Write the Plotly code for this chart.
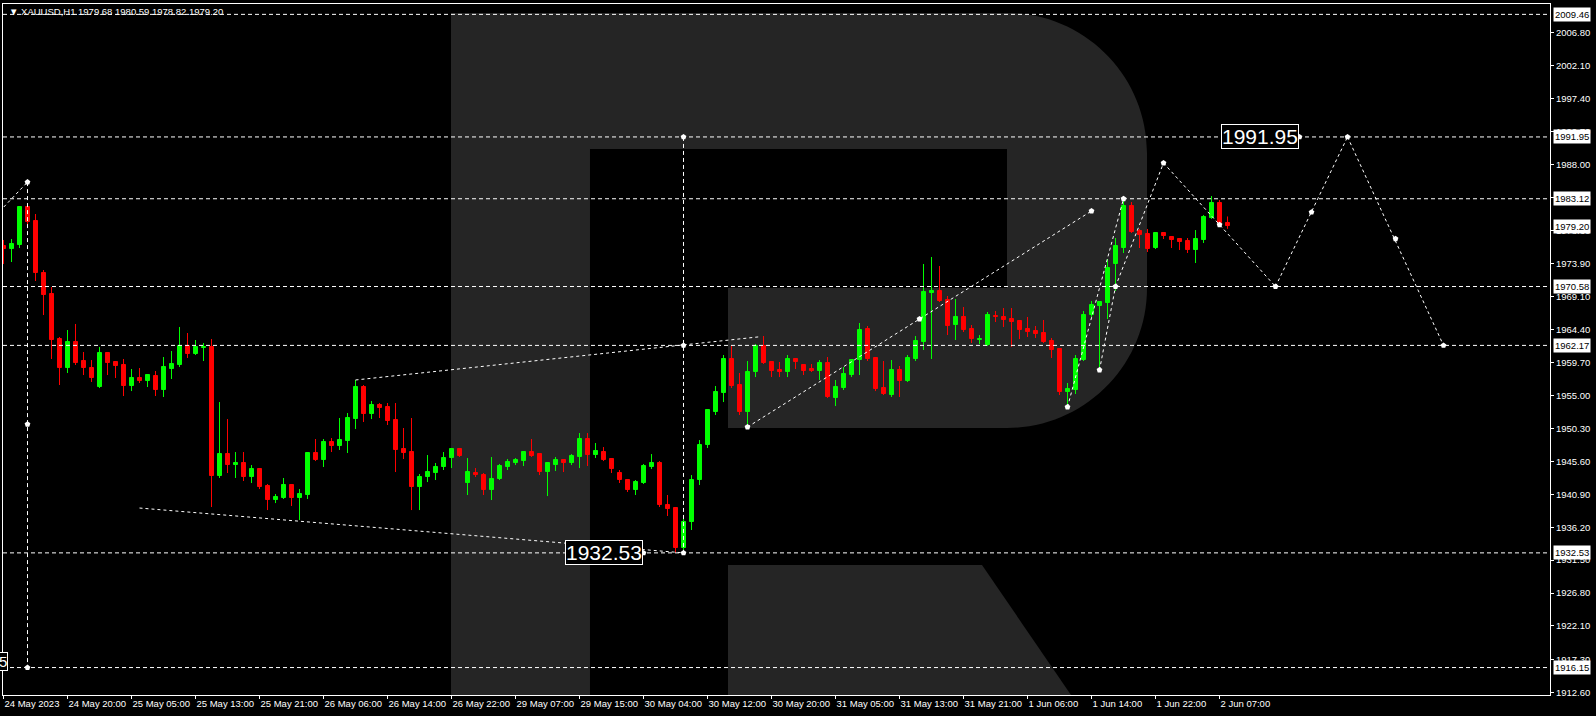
import plotly.graph_objects as go

# ---------------- data (XAUUSD H1) ----------------
bar_open = [1976.37, 1975.94, 1976.51, 1981.94, 1979.94, 1972.51, 1969.51, 1963.08, 1958.94, 1962.65,
            1959.94, 1958.94, 1956.23, 1961.08, 1959.80, 1959.37, 1956.37, 1957.51, 1957.08, 1957.80,
            1955.80, 1958.80, 1959.37, 1962.08, 1960.94, 1961.85, 1961.94, 1943.51, 1946.65, 1945.08,
            1945.37, 1943.37, 1944.51, 1942.08, 1940.08, 1940.37, 1942.23, 1940.37, 1940.80, 1946.80,
            1945.80, 1948.37, 1947.80, 1948.51, 1951.65, 1956.23, 1952.37, 1953.65, 1953.37, 1951.51,
            1947.37, 1946.94, 1941.94, 1943.37, 1943.94, 1944.80, 1946.08, 1947.37, 1942.51, 1943.94,
            1943.65, 1941.51, 1943.08, 1944.80, 1945.37, 1945.65, 1946.94, 1946.65, 1944.08, 1945.08,
            1945.80, 1945.37, 1946.23, 1948.80, 1946.51, 1946.94, 1945.94, 1943.94, 1942.94, 1941.51,
            1942.51, 1944.80, 1945.37, 1939.37, 1938.94, 1933.23, 1936.94, 1942.94, 1947.94, 1952.65,
            1955.37, 1960.23, 1956.51, 1952.65, 1958.37, 1962.08, 1959.80, 1958.65, 1958.37, 1960.23,
            1959.37, 1958.80, 1958.51, 1959.65, 1954.65, 1956.08, 1957.94, 1960.08, 1964.51, 1960.37,
            1956.08, 1955.08, 1958.65, 1957.08, 1960.23, 1962.65, 1969.65, 1969.94, 1968.65, 1965.08,
            1966.23, 1964.51, 1963.01, 1962.23, 1966.37, 1966.23, 1965.94, 1965.65, 1964.51, 1964.23,
            1963.94, 1962.80, 1961.65, 1955.51, 1955.80, 1960.08, 1966.51, 1967.80, 1968.23, 1973.80,
            1976.08, 1982.08, 1978.51, 1978.08, 1976.08, 1978.23, 1977.65, 1977.37, 1977.08, 1975.80,
            1977.23, 1980.37, 1982.51, 1979.68]
bar_high = [1977.23, 1977.37, 1982.08, 1982.51, 1980.94, 1972.94, 1970.51, 1963.37, 1964.37, 1965.23,
            1961.23, 1960.08, 1961.94, 1961.23, 1959.94, 1960.23, 1958.80, 1958.94, 1958.08, 1958.51,
            1960.51, 1961.37, 1964.80, 1963.94, 1962.94, 1962.51, 1963.08, 1954.08, 1951.65, 1946.94,
            1946.94, 1945.08, 1944.65, 1942.37, 1940.94, 1943.23, 1942.37, 1941.65, 1946.94, 1948.80,
            1948.80, 1948.94, 1951.80, 1952.51, 1957.23, 1956.51, 1954.23, 1953.94, 1953.94, 1953.94,
            1950.37, 1951.80, 1943.80, 1946.51, 1945.37, 1946.94, 1947.51, 1947.51, 1946.08, 1944.65,
            1943.94, 1946.23, 1945.23, 1945.94, 1946.08, 1947.08, 1948.80, 1946.80, 1945.51, 1946.23,
            1945.94, 1946.65, 1949.65, 1949.65, 1948.23, 1947.65, 1946.08, 1944.37, 1943.08, 1942.94,
            1945.23, 1946.65, 1945.65, 1940.80, 1939.08, 1937.65, 1943.65, 1948.65, 1953.08, 1956.37,
            1960.80, 1962.08, 1958.23, 1959.94, 1962.37, 1963.51, 1959.94, 1959.80, 1960.80, 1960.37,
            1959.51, 1959.51, 1960.08, 1960.51, 1957.23, 1959.08, 1960.23, 1965.37, 1964.94, 1960.51,
            1959.94, 1960.08, 1959.23, 1960.80, 1963.51, 1973.80, 1974.80, 1973.51, 1969.23, 1968.80,
            1967.65, 1965.08, 1963.65, 1966.94, 1967.08, 1967.51, 1967.51, 1965.80, 1966.23, 1964.94,
            1965.80, 1963.23, 1961.80, 1956.80, 1960.80, 1967.08, 1968.51, 1968.51, 1974.51, 1977.51,
            1983.12, 1982.65, 1978.80, 1978.80, 1978.37, 1978.37, 1977.80, 1977.51, 1977.51, 1978.65,
            1980.80, 1983.51, 1982.94, 1980.59]
bar_low = [1973.80, 1974.08, 1976.08, 1979.37, 1971.37, 1966.51, 1960.23, 1956.51, 1958.23, 1959.37,
           1957.94, 1956.94, 1956.08, 1957.94, 1957.51, 1954.94, 1955.65, 1956.80, 1956.23, 1954.94,
           1954.80, 1957.37, 1959.08, 1960.37, 1960.80, 1959.94, 1939.08, 1943.23, 1943.94, 1943.23,
           1942.80, 1942.51, 1941.65, 1938.65, 1939.65, 1940.23, 1939.23, 1937.23, 1940.23, 1945.65,
           1944.80, 1946.94, 1947.23, 1946.80, 1950.23, 1951.23, 1951.65, 1951.80, 1950.80, 1944.08,
           1945.94, 1938.65, 1938.65, 1942.65, 1942.94, 1944.37, 1944.65, 1946.23, 1940.80, 1943.37,
           1940.80, 1940.08, 1942.94, 1944.37, 1945.08, 1944.94, 1946.23, 1943.65, 1940.65, 1944.23,
           1944.08, 1945.08, 1944.65, 1944.94, 1946.08, 1945.65, 1943.94, 1942.51, 1941.23, 1940.80,
           1942.37, 1944.51, 1939.08, 1937.80, 1932.53, 1932.94, 1935.80, 1942.23, 1947.51, 1952.23,
           1954.08, 1956.08, 1952.23, 1950.51, 1957.65, 1959.51, 1957.65, 1957.65, 1957.65, 1958.80,
           1957.94, 1958.37, 1957.23, 1954.65, 1953.51, 1955.80, 1957.65, 1957.94, 1959.94, 1955.65,
           1955.08, 1954.80, 1954.80, 1956.94, 1959.94, 1961.51, 1960.23, 1968.37, 1963.65, 1962.94,
           1964.08, 1962.51, 1962.37, 1962.08, 1965.51, 1964.80, 1961.94, 1963.08, 1963.37, 1963.23,
           1962.51, 1960.37, 1955.08, 1953.23, 1955.23, 1959.94, 1966.23, 1958.65, 1965.94, 1969.94,
           1975.37, 1978.23, 1976.08, 1975.51, 1975.94, 1977.37, 1976.08, 1975.80, 1975.37, 1973.94,
           1976.80, 1980.23, 1979.51, 1978.82]
bar_close = [1975.94, 1976.65, 1981.94, 1979.80, 1972.51, 1969.37, 1962.94, 1958.94, 1962.65, 1959.65,
             1958.94, 1957.51, 1961.08, 1959.65, 1959.23, 1956.37, 1957.51, 1957.08, 1957.94, 1955.80,
             1959.08, 1959.51, 1962.08, 1960.94, 1961.94, 1961.94, 1943.51, 1946.65, 1945.08, 1945.37,
             1943.37, 1944.51, 1941.94, 1940.08, 1940.51, 1942.23, 1940.37, 1940.94, 1946.80, 1945.80,
             1948.37, 1947.80, 1948.65, 1951.80, 1956.23, 1952.37, 1953.65, 1953.23, 1951.37, 1947.23,
             1946.80, 1941.94, 1943.37, 1944.08, 1944.80, 1946.08, 1947.37, 1946.37, 1944.08, 1943.65,
             1941.51, 1943.08, 1944.94, 1945.51, 1945.80, 1946.94, 1946.37, 1944.08, 1945.37, 1945.80,
             1945.37, 1946.37, 1948.80, 1946.51, 1947.08, 1945.80, 1944.51, 1942.94, 1941.51, 1942.65,
             1944.94, 1945.37, 1939.37, 1938.80, 1933.23, 1936.94, 1942.94, 1947.94, 1952.94, 1955.51,
             1960.23, 1956.37, 1952.65, 1958.37, 1962.08, 1959.65, 1958.51, 1958.37, 1960.23, 1959.80,
             1958.51, 1958.51, 1959.65, 1954.80, 1956.23, 1958.08, 1960.08, 1964.37, 1960.23, 1955.94,
             1955.23, 1958.65, 1957.08, 1960.37, 1962.80, 1969.80, 1969.94, 1968.51, 1964.94, 1966.23,
             1964.37, 1963.08, 1963.08, 1966.51, 1966.23, 1965.80, 1965.51, 1964.37, 1964.08, 1963.80,
             1962.65, 1961.51, 1955.51, 1955.94, 1960.23, 1966.51, 1967.94, 1968.37, 1973.23, 1976.37,
             1982.08, 1978.37, 1977.94, 1975.94, 1978.23, 1977.80, 1977.23, 1976.94, 1975.80, 1977.37,
             1980.51, 1982.51, 1979.65, 1979.20]

tick_bars = list(range(0, 153, 8))
tick_labels = ["24 May 2023", "24 May 20:00", "25 May 05:00", "25 May 13:00", "25 May 21:00",
               "26 May 06:00", "26 May 14:00", "26 May 22:00", "29 May 07:00", "29 May 15:00",
               "30 May 04:00", "30 May 12:00", "30 May 20:00", "31 May 05:00", "31 May 13:00",
               "31 May 21:00", "1 Jun 06:00", "1 Jun 14:00", "1 Jun 22:00", "2 Jun 07:00"]

price_ticks = [2006.80, 2002.10, 1997.40, 1992.70, 1988.00, 1983.30, 1978.60, 1973.90, 1969.10,
               1964.40, 1959.70, 1955.00, 1950.30, 1945.60, 1940.90, 1936.20, 1931.50, 1926.80,
               1922.10, 1917.30, 1912.60]
price_tick_labels = ["%.2f" % v for v in price_ticks]

level_prices = [2009.46, 1991.95, 1983.12, 1970.58, 1962.17, 1932.53, 1916.15]
current_price = 1979.20

# drawn trend / projection lines: (bar, price) -> (bar, price)
trend_bar0 = [-1, 17, 44, 93, 133, 137, 139, 145, 159, 168]
trend_price0 = [1980.70, 1938.94, 1957.23, 1950.51, 1953.37, 1958.65, 1970.58, 1988.23, 1970.58, 1991.95]
trend_bar1 = [3, 85, 94.5, 136, 140, 139, 145, 159, 168, 180]
trend_price1 = [1985.50, 1932.53, 1963.40, 1981.37, 1983.12, 1970.58, 1988.23, 1970.58, 1991.95, 1962.17]

vline_bars = [3, 85]
vline_top = [1985.50, 1991.95]
vline_bottom = [1916.15, 1932.53]

anchor_bars = [3, 3, 3, 85, 85, 85, 93, 114.5, 136, 133, 140, 137, 139, 145, 152, 159, 163.5,
               168, 174, 180, 80, 162]
anchor_prices = [1985.50, 1950.90, 1916.15, 1991.95, 1962.17, 1932.53, 1950.51, 1965.94, 1981.37,
                 1953.37, 1983.12, 1958.65, 1970.58, 1988.23, 1979.40, 1970.58, 1981.20, 1991.95,
                 1977.40, 1962.17, 1932.53, 1991.95]

label_texts = ["1991.95", "1932.53"]
label_bars = [157.1, 75.1]
label_prices = [1991.95, 1932.53]

# ---------------- styling ----------------
UP = "#00ff00"
DN = "#ff0000"
FG = "#ffffff"
WM = "#252525"
FONT = "Liberation Sans, Arial, sans-serif"
FS = 9.5

W, H = 1596, 716
ML, MR, MT, MB = 3, 46, 4, 21

fig = go.Figure()

# candle bodies and wicks
for up, col in ((True, UP), (False, DN)):
    xs, base, hgt = [], [], []
    for i, (o, c) in enumerate(zip(bar_open, bar_close)):
        if (c >= o) == up:
            xs.append(i)
            base.append(min(o, c))
            hgt.append(abs(c - o))
    fig.add_trace(go.Bar(x=xs, y=hgt, base=base, width=0.5,
                         marker=dict(color=col, line=dict(color=col, width=1)),
                         hoverinfo="skip", showlegend=False))
    wx, wy = [], []
    for i, (o, c, h, l) in enumerate(zip(bar_open, bar_close, bar_high, bar_low)):
        if (c >= o) == up:
            wx += [i, i, None]
            wy += [l, h, None]
    fig.add_trace(go.Scatter(x=wx, y=wy, mode="lines", line=dict(color=col, width=1),
                             hoverinfo="skip", showlegend=False))

# trend lines (dotted)
tx, ty = [], []
for a, b, c, d in zip(trend_bar0, trend_price0, trend_bar1, trend_price1):
    tx += [a, c, None]
    ty += [b, d, None]
fig.add_trace(go.Scatter(x=tx, y=ty, mode="lines", line=dict(color=FG, width=1, dash="3px,3px"),
                         hoverinfo="skip", showlegend=False))
# vertical lines (dashed)
vx, vy = [], []
for b, t, btm in zip(vline_bars, vline_top, vline_bottom):
    vx += [b, b, None]
    vy += [t, btm, None]
fig.add_trace(go.Scatter(x=vx, y=vy, mode="lines", line=dict(color=FG, width=1, dash="4px,3px"),
                         hoverinfo="skip", showlegend=False))
# anchor points
fig.add_trace(go.Scatter(x=anchor_bars, y=anchor_prices, mode="markers",
                         marker=dict(symbol="pentagon", size=6, color=FG, line=dict(width=0)),
                         hoverinfo="skip", showlegend=False))

shapes = []
# watermark "R" (decoration, pixel outline mapped to plot-area paper coords)
PW = W - ML - MR
PH = H - MT - MB


def P(x, y):
    return "%.5f,%.5f" % ((x - ML) / PW, (H - MB - y) / PH)


k = 0.5523 * 140
r_body = ("M " + P(451, 13) + " L " + P(1007, 13) +
          " C " + P(1007 + k, 13) + " " + P(1147, 153 - k) + " " + P(1147, 153) +
          " L " + P(1147, 288) +
          " C " + P(1147, 288 + k) + " " + P(1007 + k, 428) + " " + P(1007, 428) +
          " L " + P(728, 428) + " L " + P(728, 288) + " L " + P(1007, 288) +
          " L " + P(1007, 149) + " L " + P(590, 149) + " L " + P(590, 695) +
          " L " + P(451, 695) + " Z")
r_leg = ("M " + P(728, 565) + " L " + P(982, 565) + " L " + P(1071, 695) +
         " L " + P(728, 695) + " Z")
for pth in (r_body, r_leg):
    shapes.append(dict(type="path", path=pth, xref="paper", yref="paper",
                       fillcolor=WM, line=dict(width=0), layer="below"))

for lv in level_prices:
    shapes.append(dict(type="line", xref="x domain", yref="y", x0=0, x1=1, y0=lv, y1=lv,
                       line=dict(color=FG, width=1, dash="4px,3px"), layer="above"))

annotations = []
for lv in level_prices + [current_price]:
    annotations.append(dict(xref="paper", yref="y", x=1, y=lv, xanchor="left", yanchor="middle",
                            xshift=3, text="%.2f" % lv, showarrow=False,
                            font=dict(family=FONT, size=FS, color="#000000"),
                            bgcolor="#ffffff", borderpad=1))

for t, b, p in zip(label_texts, label_bars, label_prices):
    annotations.append(dict(xref="x", yref="y", x=b, y=p, text=t, showarrow=False,
                            xanchor="center", yanchor="middle",
                            font=dict(family=FONT, size=21, color=FG),
                            bgcolor="#000000", bordercolor=FG, borderwidth=1, borderpad=0))

# partially visible label at the left edge
annotations.append(dict(xref="x", yref="y", x=0.56, y=1917.0, text="1916.15", showarrow=False,
                        xanchor="right", yanchor="middle",
                        font=dict(family=FONT, size=15, color=FG),
                        bgcolor="#000000", bordercolor=FG, borderwidth=1, borderpad=0))

annotations.append(dict(xref="paper", yref="paper", x=0, y=1, xanchor="left", yanchor="top",
                        xshift=4, yshift=0, showarrow=False,
                        text="\u25bc XAUUSD,H1 1979.68 1980.59 1978.82 1979.20",
                        font=dict(family=FONT, size=FS, color=FG)))

fig.update_layout(
    width=W, height=H,
    margin=dict(l=ML, r=MR, t=MT, b=MB, pad=0, autoexpand=False),
    paper_bgcolor="#000000", plot_bgcolor="#000000",
    barmode="overlay", bargap=0,
    showlegend=False,
    shapes=shapes, annotations=annotations,
    xaxis=dict(range=[-0.0625, 193.31], showgrid=False, zeroline=False, automargin=False,
               showline=True, linecolor=FG, linewidth=1, mirror=True,
               ticks="outside", ticklen=3, tickcolor=FG, tickwidth=1,
               tickvals=tick_bars, ticktext=tick_labels, tickangle=0,
               ticklabelposition="outside right", ticklabeloverflow="allow",
               tickfont=dict(family=FONT, size=FS, color=FG)),
    yaxis=dict(range=[1912.23, 2010.94], side="right", showgrid=False, zeroline=False,
               automargin=False,
               showline=True, linecolor=FG, linewidth=1, mirror=True,
               ticks="outside", ticklen=3, tickcolor=FG, tickwidth=1,
               tickvals=price_ticks, ticktext=price_tick_labels,
               tickfont=dict(family=FONT, size=FS, color=FG)),
)

fig.write_html("out.html", config={"displayModeBar": False},
               post_script="document.body.style.margin='0';document.body.style.overflow='hidden';")
